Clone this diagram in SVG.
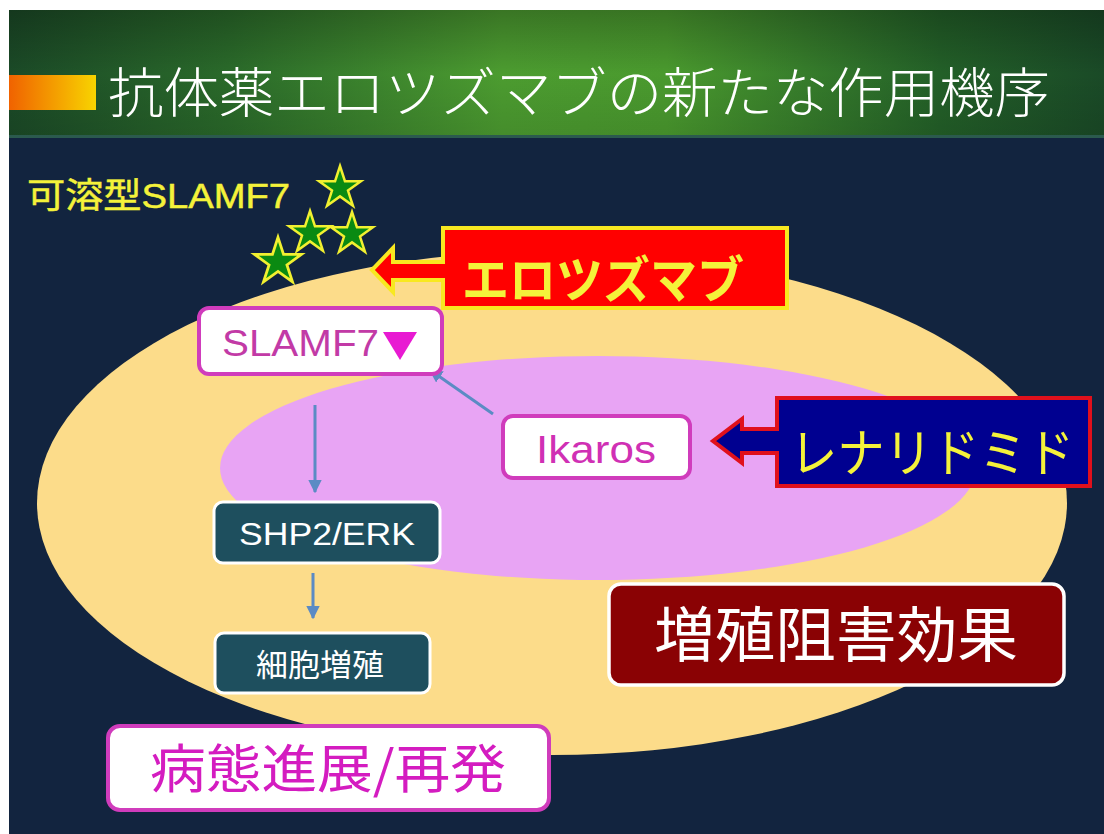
<svg xmlns="http://www.w3.org/2000/svg" width="1104" height="834" viewBox="0 0 1104 834">
<defs>
<linearGradient id="tg" x1="0" y1="0" x2="1" y2="0">
<stop offset="0" stop-color="#1b4a27"/>
<stop offset="0.2" stop-color="#2a6a2a"/>
<stop offset="0.45" stop-color="#4c9c30"/>
<stop offset="0.6" stop-color="#4a9a2e"/>
<stop offset="0.85" stop-color="#236028"/>
<stop offset="1" stop-color="#1a4a27"/>
</linearGradient>
<linearGradient id="tv" x1="0" y1="0" x2="0" y2="1">
<stop offset="0" stop-color="#000" stop-opacity="0.25"/>
<stop offset="0.5" stop-color="#000" stop-opacity="0"/>
<stop offset="1" stop-color="#000" stop-opacity="0.1"/>
</linearGradient>
<linearGradient id="og" x1="0" y1="0" x2="1" y2="0">
<stop offset="0" stop-color="#f06200"/>
<stop offset="1" stop-color="#f8d400"/>
</linearGradient>
<marker id="ah" viewBox="0 0 10 10" refX="9" refY="5" markerWidth="4.5" markerHeight="4.5" orient="auto">
<path d="M0,0 L10,5 L0,10 Z" fill="#5b8bc4"/>
</marker>
<polygon id="star" points="0,-22 4.94,-6.8 20.92,-6.8 7.99,2.6 12.94,17.8 0,8.4 -12.94,17.8 -7.99,2.6 -20.92,-6.8 -4.94,-6.8"/>
<style>
.jp{font-family:"Noto Sans CJK JP","Noto Sans",sans-serif;}
.lat{font-family:"Liberation Sans","Noto Sans CJK JP",sans-serif;}
.star{fill:#0a8a12;stroke:#f2f030;stroke-width:2.5;stroke-linejoin:miter;}
.pinkbox{fill:#ffffff;stroke:#d03cbc;stroke-width:4;}
.tealbox{fill:#1e4f5e;stroke:#ffffff;stroke-width:3;}
.conn{stroke:#5b8bc4;stroke-width:3;fill:none;}
</style>
</defs>
<rect x="0" y="0" width="1104" height="834" fill="#ffffff"/>
<rect x="9" y="10" width="1095" height="824" fill="#12243f"/>
<g id="title">
<rect x="9" y="10" width="1095" height="127" fill="url(#tg)"/>
<rect x="9" y="10" width="1095" height="127" fill="url(#tv)"/>
<rect x="9" y="135" width="1095" height="3" fill="#2b5a4e"/>
<rect x="9" y="75" width="87" height="35" fill="url(#og)"/>
<text class="jp" x="108" y="113" font-size="54" font-weight="300" fill="#ffffff" textLength="942" lengthAdjust="spacingAndGlyphs">抗体薬エロツズマブの新たな作用機序</text>
</g>
<g id="cell">
<ellipse cx="552" cy="503" rx="515" ry="252" fill="#fcdc8a"/>
</g>
<g id="nucleus">
<ellipse cx="598" cy="468" rx="378" ry="112" fill="#e8a4f4"/>
</g>
<g id="soluble-slamf7">
<text x="27" y="208" font-size="35" fill="#f4f23a" stroke="#f4f23a" stroke-width="0.5" textLength="263" lengthAdjust="spacingAndGlyphs"><tspan class="jp">可溶型</tspan><tspan class="lat">SLAMF7</tspan></text>
<use href="#star" class="star" transform="translate(340,188)"/>
<use href="#star" class="star" transform="translate(310,233)"/>
<use href="#star" class="star" transform="translate(352,234)"/>
<use href="#star" class="star" transform="translate(278,262) scale(1.12)"/>
</g>
<g id="connectors">
<line class="conn" x1="493" y1="414" x2="430" y2="370" marker-end="url(#ah)"/>
<line class="conn" x1="315" y1="405" x2="315" y2="492" marker-end="url(#ah)"/>
<line class="conn" x1="313" y1="573" x2="313" y2="618" marker-end="url(#ah)"/>
</g>
<g id="elotuzumab">
<path d="M443,228 H787 V308 H443 V280 H393 V292 L372,270 L393,248 V262 H443 Z" fill="#ff0000" stroke="#f8e820" stroke-width="4" stroke-linejoin="miter"/>
<text class="jp" x="462" y="298" font-size="50" font-weight="bold" fill="#f4f23a" textLength="282" lengthAdjust="spacingAndGlyphs">エロツズマブ</text>
</g>
<g id="lenalidomide">
<path d="M777,398 H1090 V486 H777 V453 H742 V463 L713,441 L742,419 V429 H777 Z" fill="#000090" stroke="#e0101c" stroke-width="4" stroke-linejoin="miter"/>
<text class="jp" x="790" y="472" font-size="52" fill="#f4f23a" textLength="284" lengthAdjust="spacingAndGlyphs">レナリドミド</text>
</g>
<g id="slamf7">
<rect class="pinkbox" x="199" y="308" width="243" height="66" rx="10"/>
<text class="lat" x="222" y="356" font-size="36" fill="#c23aa6" textLength="157" lengthAdjust="spacingAndGlyphs">SLAMF7</text>
<polygon points="383,332 417,332 400,360" fill="#e81ad2"/>
</g>
<g id="ikaros">
<rect class="pinkbox" x="503" y="416" width="187" height="62" rx="10"/>
<text class="lat" x="596" y="463" font-size="38" fill="#d030b4" text-anchor="middle" textLength="120" lengthAdjust="spacingAndGlyphs">Ikaros</text>
</g>
<g id="shp2erk">
<rect class="tealbox" x="214" y="502" width="226" height="61" rx="9"/>
<text class="lat" x="327" y="545" font-size="31" fill="#ffffff" text-anchor="middle" textLength="176" lengthAdjust="spacingAndGlyphs">SHP2/ERK</text>
</g>
<g id="proliferation">
<rect class="tealbox" x="215" y="633" width="215" height="60" rx="9"/>
<text class="jp" x="320" y="676" font-size="31" fill="#ffffff" text-anchor="middle" textLength="128" lengthAdjust="spacingAndGlyphs">細胞増殖</text>
</g>
<g id="inhibition">
<rect x="609" y="584" width="455" height="101" rx="12" fill="#8a0204" stroke="#ffffff" stroke-width="3.5"/>
<text class="jp" x="836" y="657" font-size="60" fill="#ffffff" text-anchor="middle" textLength="364" lengthAdjust="spacingAndGlyphs">増殖阻害効果</text>
</g>
<g id="progression">
<rect class="pinkbox" x="108" y="726" width="441" height="84" rx="12"/>
<text class="jp" x="328" y="788" font-size="52" fill="#d41cc0" text-anchor="middle" textLength="356" lengthAdjust="spacingAndGlyphs">病態進展/再発</text>
</g>
</svg>
